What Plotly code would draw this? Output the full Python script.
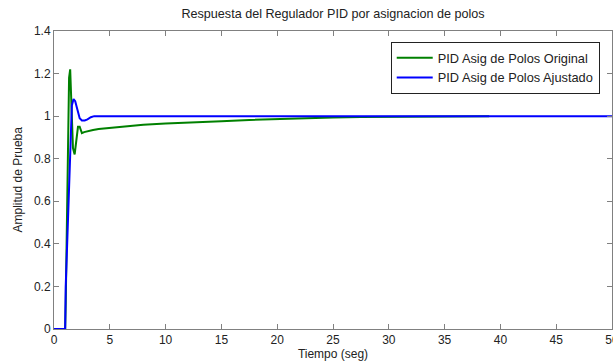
import plotly.graph_objects as go

t_orig = [0, 1.0, 1.05, 1.15, 1.25, 1.35, 1.45, 1.55, 1.7, 1.85, 2.0, 2.15, 2.3, 2.5, 2.7,
          3.0, 3.5, 4, 5, 6, 7, 8, 10, 12, 13, 15, 17.5, 20, 22.5, 25, 27.5, 30, 33, 36, 39]
y_orig = [0, 0, 0.12, 0.45, 0.9, 1.18, 1.22, 1.1, 0.85, 0.82, 0.9, 0.95, 0.95, 0.92, 0.925,
          0.93, 0.935, 0.94, 0.945, 0.95, 0.955, 0.96, 0.965, 0.968, 0.97, 0.976, 0.982,
          0.987, 0.991, 0.994, 0.996, 0.997, 0.998, 0.999, 0.999]

t_adj = [0, 1.0, 1.05, 1.2, 1.35, 1.5, 1.6, 1.75, 1.9, 2.1, 2.3, 2.5, 2.75, 3.0, 3.3, 3.6, 4, 50]
y_adj = [0, 0, 0.2, 0.45, 0.7, 0.95, 1.05, 1.08, 1.07, 1.03, 0.99, 0.98, 0.98, 0.985, 0.995,
         1.0, 1.0, 1.0]

x_ticks = [0, 5, 10, 15, 20, 25, 30, 35, 40, 45, 50]
y_ticks = [0, 0.2, 0.4, 0.6, 0.8, 1, 1.2, 1.4]
y_tick_labels = ["0", "0.2", "0.4", "0.6", "0.8", "1", "1.2", "1.4"]

FAM = "Liberation Sans, Arial, sans-serif"
font = dict(family=FAM, size=12, color="#222222")

fig = go.Figure()
fig.add_trace(go.Scatter(x=t_orig, y=y_orig, mode="lines", name="PID Asig de Polos Original",
                         line=dict(color="#008000", width=2)))
fig.add_trace(go.Scatter(x=t_adj, y=y_adj, mode="lines", name="PID Asig de Polos Ajustado",
                         line=dict(color="#0000ff", width=2)))

axis_common = dict(showgrid=False, zeroline=False, showline=True, linecolor="#808080",
                   linewidth=1, mirror="ticks", ticks="inside", ticklen=5, tickcolor="#808080",
                   tickfont=font, ticklabeloverflow="allow", automargin=False)

fig.update_layout(
    width=613, height=362,
    margin=dict(l=54, r=1, t=31, b=33),
    paper_bgcolor="white", plot_bgcolor="white",
    font=font,
    title=dict(text="Respuesta del Regulador PID por asignacion de polos",
               x=(54 + 612) / 2 / 613, xanchor="center", y=1 - 14 / 362, yanchor="middle",
               font=dict(family=FAM, size=12.6, color="#222222")),
    xaxis=dict(range=[0, 50], tickvals=x_ticks,
               title=dict(text="Tiempo (seg)", standoff=2, font=font), **axis_common),
    yaxis=dict(range=[0, 1.4], tickvals=y_ticks, ticktext=y_tick_labels, **axis_common),
    annotations=[dict(text="Amplitud de Prueba", textangle=-90, xref="paper", yref="paper",
                      x=0, y=0.5, xshift=-36.5, xanchor="center", yanchor="middle",
                      showarrow=False, font=font)],
    legend=dict(x=0.978, y=0.963, xanchor="right", yanchor="top",
                bgcolor="white", bordercolor="#222222", borderwidth=1,
                font=dict(family=FAM, size=12.8, color="#222222"),
                tracegroupgap=0, itemwidth=36),
    showlegend=True,
)

fig.write_html("out.html")
